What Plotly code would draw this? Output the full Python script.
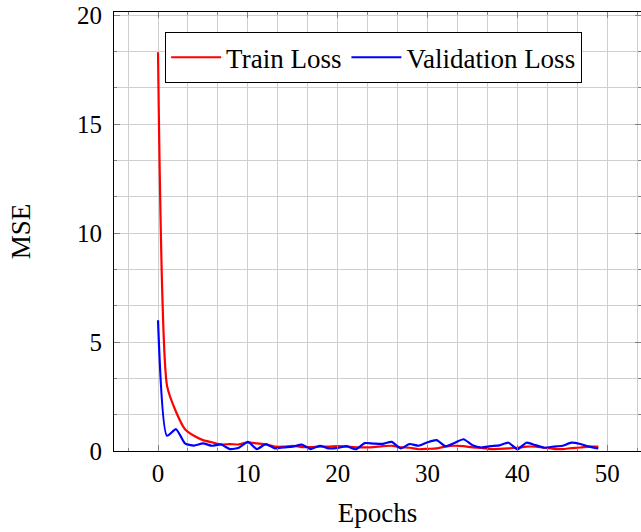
import plotly.graph_objects as go

epochs = list(range(50))
train_loss = [18.3, 3.0, 1.8, 1.0, 0.7, 0.5, 0.4, 0.3, 0.32, 0.3,
              0.4, 0.35, 0.3, 0.2, 0.2, 0.24, 0.18, 0.18, 0.2, 0.2,
              0.22, 0.2, 0.17, 0.17, 0.18, 0.22, 0.24, 0.17, 0.15, 0.08,
              0.1, 0.12, 0.2, 0.24, 0.22, 0.17, 0.14, 0.09, 0.1, 0.12,
              0.15, 0.2, 0.2, 0.15, 0.1, 0.09, 0.13, 0.16, 0.2, 0.2]
val_loss = [6.0, 0.7, 1.0, 0.35, 0.25, 0.35, 0.24, 0.3, 0.09, 0.15,
            0.42, 0.09, 0.32, 0.12, 0.17, 0.2, 0.29, 0.09, 0.24, 0.12,
            0.14, 0.22, 0.08, 0.36, 0.34, 0.33, 0.42, 0.12, 0.32, 0.24,
            0.4, 0.5, 0.22, 0.37, 0.54, 0.26, 0.16, 0.22, 0.26, 0.38,
            0.08, 0.38, 0.27, 0.15, 0.2, 0.24, 0.38, 0.32, 0.2, 0.12]
x_ticks = [0, 10, 20, 30, 40, 50]
y_ticks = [0, 5, 10, 15, 20]

FONT = "Liberation Serif"
GRID = "#cfcfcf"

fig = go.Figure()
fig.add_trace(go.Scatter(x=epochs, y=train_loss, mode="lines", name="Train Loss",
                         line=dict(color="#ff0000", width=2.2, shape="spline", smoothing=0.6)))
fig.add_trace(go.Scatter(x=epochs, y=val_loss, mode="lines", name="Validation Loss",
                         line=dict(color="#0000ff", width=2.2, shape="spline", smoothing=0.6)))

axis_common = dict(
    showline=True, linecolor="black", linewidth=1, mirror="allticks",
    showgrid=True, gridcolor=GRID, gridwidth=1,
    ticks="inside", ticklen=6, tickcolor="#808080", tickwidth=1,
    zeroline=False,
    tickfont=dict(family=FONT, size=25, color="black"),
    title_font=dict(family=FONT, size=27, color="black"),
)

fig.update_xaxes(
    range=[-4.9, 53.75], tickvals=x_ticks, ticktext=[str(v) for v in x_ticks],
    title_text="Epochs", title_standoff=17,
    minor=dict(dtick=10/3, tick0=0, showgrid=True, gridcolor=GRID, gridwidth=1,
               ticks="inside", ticklen=3, tickcolor="#808080"),
    **axis_common,
)
fig.update_yaxes(
    range=[0, 20.15], tickvals=y_ticks, ticktext=[str(v) for v in y_ticks],
    title_text="MSE", title_standoff=38, ticklabelstandoff=6,
    minor=dict(dtick=5/3, tick0=0, showgrid=True, gridcolor=GRID, gridwidth=1,
               ticks="inside", ticklen=3, tickcolor="#808080"),
    **axis_common,
)

fig.update_layout(
    width=641, height=532,
    margin=dict(l=114, r=0, t=12, b=81),
    paper_bgcolor="white", plot_bgcolor="white",
    font=dict(family=FONT, size=27, color="black"),
    showlegend=True,
    legend=dict(
        orientation="h", x=0.097, y=0.954, xanchor="left", yanchor="top",
        bordercolor="black", borderwidth=1, bgcolor="white",
        font=dict(family=FONT, size=27, color="black"),
        itemwidth=50, tracegroupgap=0,
    ),
)

fig.write_html("out.html")
